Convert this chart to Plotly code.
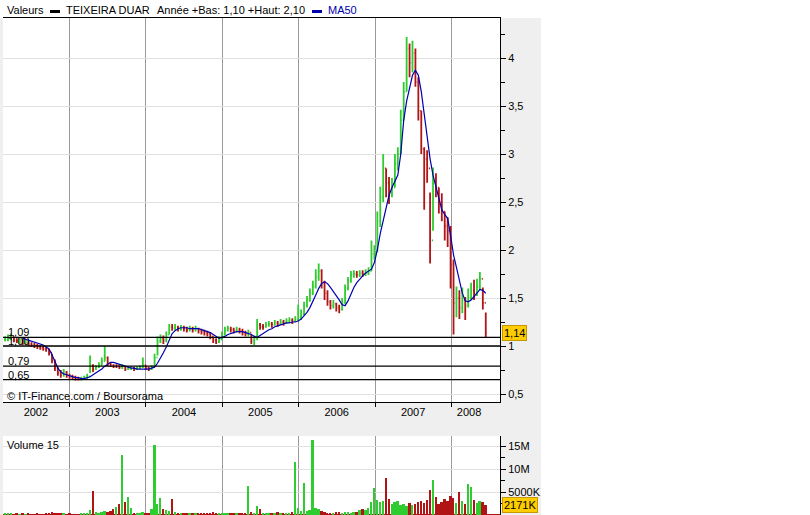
import plotly.graph_objects as go
import pandas as pd

W, H = 810, 515
def px(x): return x / W
def py(y): return 1 - y / H

# ---------------- data (biweekly samples) ----------------
dates = pd.date_range("2002-03-01", periods=165, freq="14D")

close = [1.07, 1.08, 1.10, 1.06, 1.05, 1.07, 1.03, 1.04, 1.02, 1.01,
         1.00, 0.99, 0.98, 0.97, 0.96, 0.93, 0.85, 0.77, 0.72, 0.70,
         0.73, 0.69, 0.68, 0.67, 0.66, 0.65, 0.66, 0.66, 0.68, 0.80,
         0.76, 0.78, 0.80, 0.84, 0.88, 0.82, 0.80, 0.79, 0.79, 0.78,
         0.79, 0.76, 0.77, 0.77, 0.76, 0.77, 0.78, 0.80, 0.77, 0.76,
         0.78, 0.88, 1.05, 1.08, 1.06, 1.12, 1.20, 1.19, 1.20, 1.18,
         1.19, 1.18, 1.17, 1.18, 1.17, 1.18, 1.16, 1.15, 1.14, 1.13,
         1.10, 1.06, 1.04, 1.07, 1.12, 1.17, 1.18, 1.17, 1.16, 1.17,
         1.16, 1.14, 1.13, 1.14, 1.05, 1.08, 1.22, 1.20, 1.20, 1.22,
         1.23, 1.22, 1.24, 1.23, 1.25, 1.24, 1.26, 1.27, 1.26, 1.28,
         1.30, 1.33, 1.42, 1.48, 1.55, 1.62, 1.72, 1.78, 1.66, 1.55,
         1.46, 1.42, 1.44, 1.40, 1.38, 1.45, 1.60, 1.68, 1.74, 1.75,
         1.74, 1.76, 1.75, 1.76, 1.78, 1.96, 1.98, 2.30, 2.55, 2.85,
         2.70, 2.60, 2.65, 2.90, 3.00, 3.35, 3.65, 4.10, 3.95, 4.05,
         3.75, 3.45, 3.05, 2.95, 2.85, 2.10, 2.70, 2.65, 2.50, 2.40,
         2.25, 2.20, 1.85, 1.45, 1.50, 1.40, 1.48, 1.42, 1.50, 1.58,
         1.55, 1.62, 1.70, 1.45, 1.14]

high = [1.10, 1.12, 1.13, 1.10, 1.08, 1.09, 1.07, 1.06, 1.05, 1.04,
        1.03, 1.02, 1.01, 1.00, 0.99, 0.97, 0.92, 0.86, 0.78, 0.75,
        0.76, 0.74, 0.71, 0.70, 0.69, 0.68, 0.68, 0.69, 0.71, 0.90,
        0.81, 0.80, 0.83, 0.88, 1.00, 0.89, 0.83, 0.81, 0.81, 0.80,
        0.81, 0.79, 0.79, 0.79, 0.78, 0.79, 0.80, 0.88, 0.80, 0.78,
        0.80, 0.92, 1.10, 1.12, 1.11, 1.15, 1.23, 1.23, 1.23, 1.21,
        1.22, 1.21, 1.20, 1.21, 1.20, 1.21, 1.19, 1.18, 1.17, 1.16,
        1.14, 1.10, 1.08, 1.10, 1.15, 1.20, 1.21, 1.20, 1.19, 1.20,
        1.19, 1.18, 1.16, 1.17, 1.12, 1.11, 1.28, 1.24, 1.23, 1.25,
        1.26, 1.25, 1.27, 1.26, 1.28, 1.27, 1.29, 1.30, 1.29, 1.31,
        1.43, 1.38, 1.46, 1.52, 1.60, 1.68, 1.80, 1.86, 1.80, 1.68,
        1.58, 1.48, 1.48, 1.45, 1.43, 1.50, 1.64, 1.72, 1.78, 1.79,
        1.78, 1.79, 1.79, 1.80, 1.82, 2.10, 2.05, 2.40, 2.66, 3.00,
        2.85, 2.76, 2.75, 3.00, 3.07, 3.46, 3.75, 4.22, 4.15, 4.18,
        4.10, 3.80, 3.45, 3.07, 3.04, 2.60, 2.86, 2.80, 2.65, 2.59,
        2.40, 2.34, 2.25, 1.90, 1.62, 1.58, 1.61, 1.51, 1.60, 1.66,
        1.69, 1.70, 1.77, 1.61, 1.35]

low = [1.05, 1.05, 1.06, 1.04, 1.03, 1.02, 1.01, 1.01, 1.00, 0.99,
       0.98, 0.97, 0.96, 0.95, 0.94, 0.90, 0.82, 0.74, 0.69, 0.67,
       0.68, 0.67, 0.66, 0.65, 0.64, 0.64, 0.64, 0.65, 0.66, 0.72,
       0.73, 0.75, 0.77, 0.80, 0.84, 0.79, 0.78, 0.77, 0.77, 0.76,
       0.76, 0.74, 0.75, 0.75, 0.74, 0.75, 0.76, 0.77, 0.75, 0.74,
       0.75, 0.78, 0.90, 1.03, 1.02, 1.04, 1.12, 1.16, 1.16, 1.15,
       1.16, 1.15, 1.14, 1.15, 1.14, 1.15, 1.13, 1.12, 1.11, 1.10,
       1.07, 1.03, 1.02, 1.03, 1.06, 1.11, 1.15, 1.14, 1.13, 1.14,
       1.13, 1.11, 1.10, 1.10, 1.02, 1.01, 1.06, 1.17, 1.17, 1.19,
       1.20, 1.19, 1.21, 1.20, 1.22, 1.21, 1.23, 1.24, 1.23, 1.25,
       1.26, 1.27, 1.32, 1.40, 1.46, 1.53, 1.60, 1.68, 1.60, 1.48,
       1.42, 1.38, 1.39, 1.36, 1.34, 1.37, 1.44, 1.58, 1.66, 1.71,
       1.71, 1.72, 1.72, 1.73, 1.74, 1.78, 1.90, 1.98, 2.24, 2.50,
       2.55, 2.48, 2.55, 2.65, 2.83, 3.00, 3.35, 3.65, 3.80, 3.85,
       3.70, 3.35, 3.00, 2.42, 2.70, 1.86, 2.20, 2.55, 2.38, 2.30,
       2.10, 2.03, 1.60, 1.12, 1.30, 1.28, 1.34, 1.27, 1.40, 1.48,
       1.48, 1.52, 1.58, 1.38, 1.09]

ma50 = [None, None, None, None, None, None,
        1.08, 1.07, 1.06, 1.05, 1.04, 1.03, 1.02, 1.01, 0.99, 0.97,
        0.91, 0.83, 0.77, 0.73, 0.71, 0.70, 0.69, 0.68, 0.67, 0.67,
        0.66, 0.66, 0.67, 0.68, 0.70, 0.72, 0.74, 0.76, 0.79, 0.81,
        0.83, 0.83, 0.82, 0.81, 0.80, 0.79, 0.78, 0.77, 0.77, 0.76,
        0.76, 0.76, 0.76, 0.76, 0.77, 0.78, 0.82, 0.87, 0.93, 0.99,
        1.07, 1.13, 1.16, 1.18, 1.19, 1.19, 1.19, 1.18, 1.18, 1.18,
        1.18, 1.17, 1.16, 1.15, 1.14, 1.12, 1.10, 1.08, 1.09, 1.10,
        1.12, 1.13, 1.14, 1.15, 1.15, 1.15, 1.14, 1.13, 1.12, 1.10,
        1.09, 1.11, 1.13, 1.15, 1.17, 1.18, 1.20, 1.21, 1.22, 1.23,
        1.24, 1.24, 1.25, 1.25, 1.26, 1.28, 1.31, 1.35, 1.40, 1.46,
        1.53, 1.60, 1.65, 1.67, 1.65, 1.61, 1.57, 1.53, 1.48, 1.43,
        1.42, 1.47, 1.54, 1.61, 1.66, 1.70, 1.73, 1.76, 1.78, 1.80,
        1.87, 2.00, 2.17, 2.30, 2.45, 2.57, 2.65, 2.71, 2.78, 3.00,
        3.35, 3.55, 3.70, 3.82, 3.87, 3.82, 3.65, 3.40, 3.15, 2.95,
        2.78, 2.65, 2.52, 2.42, 2.37, 2.33, 2.15, 1.95, 1.82, 1.68,
        1.55, 1.47, 1.46, 1.48, 1.51, 1.55, 1.59, 1.58, 1.55]

volume = [0.3, 0.4, 0.3, 0.2, 0.3, 0.2, 0.3, 0.2, 0.3, 0.2,
          0.2, 0.3, 0.2, 0.2, 0.3, 0.4, 0.6, 0.5, 0.4, 0.3,
          0.3, 0.2, 0.3, 0.2, 0.2, 0.2, 0.3, 0.3, 0.4, 1.0,
          5.2, 0.6, 0.5, 0.6, 0.9, 0.7, 0.8, 1.2, 1.8, 2.4,
          13.0, 2.8, 4.0, 1.5, 0.4, 0.3, 0.3, 0.6, 0.3, 0.4,
          1.2, 15.2, 2.5, 3.7, 1.2, 1.0, 0.8, 3.4, 0.6, 0.5,
          0.4, 0.3, 0.4, 0.3, 0.5, 0.3, 0.4, 0.3, 0.3, 0.4,
          0.5, 0.6, 0.5, 0.4, 0.5, 0.4, 0.3, 0.4, 0.3, 0.4,
          0.3, 0.4, 0.5, 6.3, 0.6, 0.5, 2.0, 1.2, 0.5, 0.4,
          0.3, 0.5, 0.4, 0.6, 0.4, 0.5, 0.3, 0.5, 0.6, 11.5,
          1.6, 0.8, 7.0, 0.9, 1.0, 16.3, 1.5, 1.2, 0.8, 0.6,
          0.5, 0.4, 0.5, 0.6, 0.7, 0.5, 0.6, 0.7, 0.5, 0.6,
          0.7, 1.0, 1.2, 1.0, 1.5, 2.8, 5.8, 3.2, 2.8, 3.0,
          8.0, 3.5, 2.5, 2.8, 3.0, 2.2, 2.5, 2.0, 2.6, 2.2,
          2.4, 2.8, 3.0, 2.6, 3.2, 5.4, 7.7, 4.0, 2.5, 2.8,
          3.5, 3.0, 4.2, 3.8, 2.6, 5.0, 3.0, 2.5, 6.8, 6.0,
          3.2, 2.6, 3.0, 2.8, 2.171]

levels = [1.09, 1.00, 0.79, 0.65]
level_labels = ["1,09", "1,00", "0,79", "0,65"]

price_tickvals = [0.5, 1, 1.5, 2, 2.5, 3, 3.5, 4]
price_ticktext = ["0,5", "1", "1,5", "2", "2,5", "3", "3,5", "4"]
vol_tickvals = [5, 10, 15]
vol_ticktext = ["5000K", "10M", "15M"]
year_labels = ["2002", "2003", "2004", "2005", "2006", "2007", "2008"]
year_label_pos = ["2002-07-26", "2003-07-02", "2004-07-02", "2005-07-02",
                  "2006-07-02", "2007-07-02", "2008-03-25"]
year_starts = ["2003-01-01", "2004-01-01", "2005-01-01", "2006-01-01",
               "2007-01-01", "2008-01-01"]

# ---------------- styling ----------------
GREEN = "#2ecc2e"
RED = "#b01414"
FONT = "Liberation Sans, Arial, sans-serif"

opens = [1.06] + close[:-1]
vol_colors = [GREEN if c >= o else RED for c, o in zip(close, opens)]

fig = go.Figure()
fig.add_trace(go.Ohlc(x=dates, open=opens, high=high, low=low, close=close,
                      increasing=dict(line=dict(color=GREEN, width=1.8)),
                      decreasing=dict(line=dict(color=RED, width=1.8)),
                      tickwidth=0.35, xaxis="x", yaxis="y", showlegend=False,
                      hoverinfo="skip"))
fig.add_trace(go.Scatter(x=dates, y=ma50, mode="lines",
                         line=dict(color="#0000b0", width=1.2),
                         xaxis="x", yaxis="y", showlegend=False))
fig.add_trace(go.Bar(x=dates, y=volume, marker=dict(color=vol_colors, line=dict(width=0)),
                     width=9 * 86400000, xaxis="x2", yaxis="y2", showlegend=False))

x_range = ["2002-02-19", "2008-08-20"]

fig.update_layout(
    width=W, height=H,
    margin=dict(l=0, r=0, t=0, b=0),
    paper_bgcolor="#efefef",
    plot_bgcolor="white",
    separators=", ",
    font=dict(family=FONT, size=11, color="black"),
    bargap=0,
    xaxis=dict(domain=[px(3), px(500)], anchor="y", type="date", range=x_range,
               rangeslider=dict(visible=False),
               tickmode="array", tickvals=year_label_pos, ticktext=year_labels,
               ticks="", showgrid=False,
               showline=True, linecolor="black", linewidth=1, mirror=True,
               tickfont=dict(size=11, family=FONT),
               minor=dict(tickmode="array", tickvals=year_starts, showgrid=True,
                          gridcolor="#9a9a9a", gridwidth=1,
                          ticks="outside", ticklen=4, tickcolor="black")),
    yaxis=dict(domain=[py(402), py(18)], anchor="x", side="right",
               range=[0.4167, 4.4167],
               tickmode="array", tickvals=price_tickvals, ticktext=price_ticktext,
               ticks="outside", ticklen=5, tickcolor="black",
               showgrid=True, gridcolor="#e0e0e0", zeroline=False,
               showline=True, linecolor="black", linewidth=1,
               tickfont=dict(size=11, family=FONT),
               minor=dict(dtick=0.25, tick0=0.25, ticks="outside", ticklen=4,
                          tickcolor="black", showgrid=False)),
    xaxis2=dict(domain=[px(3), px(500)], anchor="y2", type="date", range=x_range,
                matches="x", showticklabels=False, ticks="", showgrid=False,
                showline=False,
                minor=dict(tickmode="array", tickvals=year_starts, showgrid=True,
                           gridcolor="#9a9a9a", gridwidth=1, ticks="")),
    yaxis2=dict(domain=[0, py(436)], anchor="x2", side="right",
                range=[0, 17.2],
                tickmode="array", tickvals=vol_tickvals, ticktext=vol_ticktext,
                ticks="outside", ticklen=5, tickcolor="black",
                showgrid=True, gridcolor="#e0e0e0",
                zeroline=True, zerolinecolor=RED, zerolinewidth=2,
                showline=True, linecolor="black", linewidth=1,
                tickfont=dict(size=11, family=FONT),
                minor=dict(dtick=2.5, tick0=2.5, ticks="outside", ticklen=4,
                           tickcolor="black", showgrid=False)),
)

# white page area right of the chart frame and white header row
fig.add_shape(type="rect", xref="paper", yref="paper",
              x0=px(541), x1=1, y0=0, y1=1,
              fillcolor="white", line=dict(width=0), layer="below")
fig.add_shape(type="rect", xref="paper", yref="paper",
              x0=0, x1=px(541), y0=py(18), y1=1,
              fillcolor="white", line=dict(width=0), layer="below")

# support / resistance lines with labels
for lv, lab in zip(levels, level_labels):
    fig.add_hline(y=lv, line=dict(color="black", width=1.3), xref="x", yref="y")
    fig.add_annotation(x=px(6), y=lv, xref="paper", yref="y", text=lab,
                       showarrow=False, xanchor="left", yanchor="bottom",
                       yshift=-3, font=dict(size=11, family=FONT, color="black"))

# last price / last volume boxes
fig.add_annotation(x=px(502), y=close[-1], xref="paper", yref="y",
                   text=f"{close[-1]:.2f}".replace(".", ","), showarrow=False,
                   xanchor="left", yanchor="middle", bgcolor="#ffcc00",
                   bordercolor="#c89600", borderwidth=1, borderpad=1,
                   font=dict(size=11, family=FONT, color="black"))
fig.add_annotation(x=px(502), y=volume[-1], xref="paper", yref="y2",
                   text=f"{round(volume[-1] * 1000)}K", showarrow=False,
                   xanchor="left", yanchor="middle", bgcolor="#ffcc00",
                   bordercolor="#c89600", borderwidth=1, borderpad=1,
                   font=dict(size=11, family=FONT, color="black"))

# header legend
def txt(x, y, s, color="black"):
    fig.add_annotation(x=px(x), y=py(y), xref="paper", yref="paper", text=s,
                       showarrow=False, xanchor="left", yanchor="middle",
                       font=dict(size=11, family=FONT, color=color))

txt(5, 10, "Valeurs")
fig.add_shape(type="rect", xref="paper", yref="paper",
              x0=px(50), x1=px(60), y0=py(13), y1=py(10),
              fillcolor="black", line=dict(width=0))
txt(64, 10, "TEIXEIRA DUAR")
txt(155, 10, "Année +Bas: 1,10 +Haut: 2,10")
fig.add_shape(type="rect", xref="paper", yref="paper",
              x0=px(312), x1=px(322), y0=py(13), y1=py(10),
              fillcolor="#0000b0", line=dict(width=0))
txt(326, 10, "MA50", color="#0000b0")

txt(5, 396, "© IT-Finance.com / Boursorama")
txt(5, 445, "Volume 15")

fig.write_html("out.html", config={"displayModeBar": False},
               post_script="document.body.style.margin='0px';document.body.style.padding='0px';")
